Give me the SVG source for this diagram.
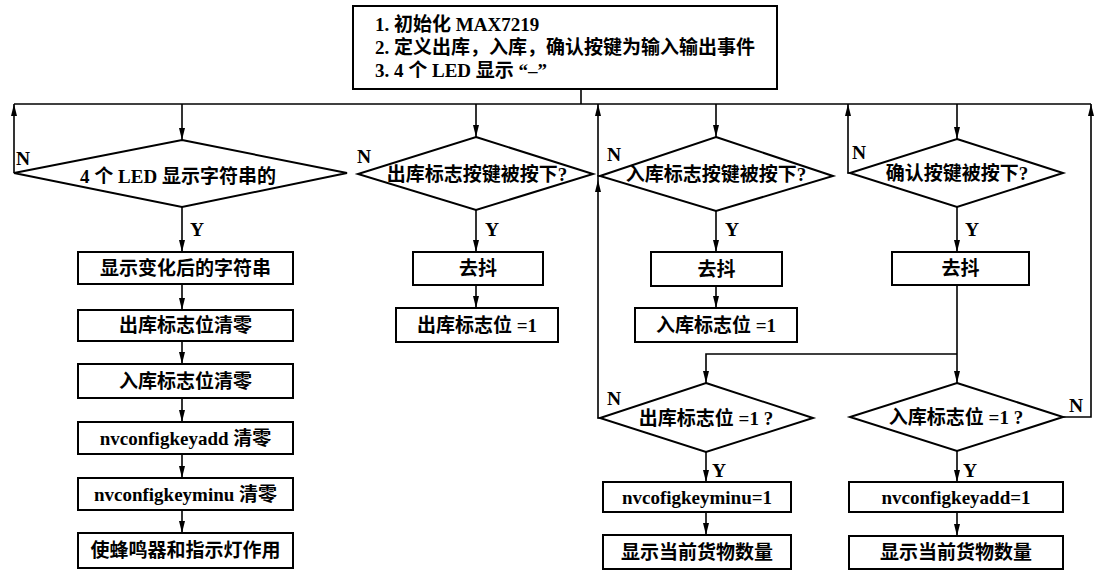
<svg xmlns="http://www.w3.org/2000/svg" width="1094" height="570" viewBox="0 0 1094 570">
<style>
.bx{fill:#fff;stroke:#000;stroke-width:2}
.dm{fill:#fff;stroke:#000;stroke-width:2}
.ln{fill:none;stroke:#000;stroke-width:1.6}
.ar{fill:none;stroke:#000;stroke-width:1.6;marker-end:url(#ah)}
.t{font-family:"Liberation Serif","Noto Sans CJK SC",serif;font-size:19px;font-weight:bold;text-anchor:middle;dominant-baseline:central;fill:#000}
.tl{font-family:"Liberation Serif","Noto Sans CJK SC",serif;font-size:19px;font-weight:bold;fill:#000}
.lb{font-family:"Liberation Serif",serif;font-size:19.5px;font-weight:bold;fill:#000}
</style>
<defs>
<marker id="ah" markerUnits="userSpaceOnUse" markerWidth="12" markerHeight="6" refX="12" refY="3" orient="auto">
<path d="M0,0 L12,3 L0,6 z" fill="#000"/>
</marker>
</defs>
<rect width="1094" height="570" fill="#fff"/>

<g id="connectors">
<path class="ln" d="M581,89 V104"/>
<path class="ln" d="M14,104 H1091"/>
<path class="ar" d="M182,104 V140"/>
<path class="ar" d="M476,104 V137"/>
<path class="ar" d="M716,104 V137"/>
<path class="ar" d="M957,104 V139"/>
<path class="ar" d="M14,173 V104"/>
<path class="ar" d="M600,418 H598 V180"/>
<path class="ln" d="M598,180 V176 H602"/>
<path class="ar" d="M598,176 V104"/>
<path class="ar" d="M850,173 H848 V104"/>
<path class="ar" d="M1063,417 H1091 V104"/>
<path class="ar" d="M182,207 V252"/>
<path class="ar" d="M182,284 V310"/>
<path class="ar" d="M182,341 V364"/>
<path class="ar" d="M182,398 V422"/>
<path class="ar" d="M182,454 V478"/>
<path class="ar" d="M182,510 V533"/>
<path class="ar" d="M476,210 V252"/>
<path class="ar" d="M476,285 V308"/>
<path class="ar" d="M716,211 V252"/>
<path class="ar" d="M716,286 V308"/>
<path class="ar" d="M957,207 V252"/>
<path class="ar" d="M957,285 V383"/>
<path class="ar" d="M957,354 H706 V383"/>
<path class="ar" d="M706,452 V482"/>
<path class="ar" d="M706,512 V535"/>
<path class="ar" d="M957,451 V482"/>
<path class="ar" d="M957,512 V536"/>
</g>

<g id="labels">
<text class="lb" x="16" y="165">N</text>
<text class="lb" x="190" y="236">Y</text>
<text class="lb" x="357" y="163">N</text>
<text class="lb" x="485" y="236">Y</text>
<text class="lb" x="607" y="161">N</text>
<text class="lb" x="725" y="236">Y</text>
<text class="lb" x="852" y="159">N</text>
<text class="lb" x="965" y="236">Y</text>
<text class="lb" x="607" y="405">N</text>
<text class="lb" x="712" y="477">Y</text>
<text class="lb" x="1069" y="412">N</text>
<text class="lb" x="963" y="477">Y</text>
</g>

<g id="init">
<rect class="bx" x="353" y="6" width="424" height="83"/>
<text class="tl" x="375" y="31">1. 初始化 MAX7219</text>
<text class="tl" x="375" y="54">2. 定义出库，入库，确认按键为输入输出事件</text>
<text class="tl" x="375" y="77">3. 4 个 LED 显示 “–”</text>
</g>

<g id="d1"><polygon class="dm" points="182,140 347,173 182,207 14,173"/><text class="t" x="178" y="176">4 个 LED 显示字符串的</text></g>
<g id="d2"><polygon class="dm" points="476,137 593,174 476,210 358,174"/><text class="t" x="477" y="174">出库标志按键被按下?</text></g>
<g id="d3"><polygon class="dm" points="716,137 833,176 716,211 600,176"/><text class="t" x="716" y="174">入库标志按键被按下?</text></g>
<g id="d4"><polygon class="dm" points="957,139 1063,173 957,207 850,173"/><text class="t" x="957" y="173">确认按键被按下?</text></g>
<g id="d5"><polygon class="dm" points="706,383 813,418 706,452 600,418"/><text class="t" x="706" y="418">出库标志位 =1 ?</text></g>
<g id="d6"><polygon class="dm" points="957,383 1063,417 957,451 850,417"/><text class="t" x="956" y="417">入库标志位 =1 ?</text></g>

<g id="b1"><rect class="bx" x="78" y="252" width="215" height="32"/><text class="t" x="185.5" y="268">显示变化后的字符串</text></g>
<g id="b2"><rect class="bx" x="78" y="310" width="215" height="31"/><text class="t" x="185.5" y="325.5">出库标志位清零</text></g>
<g id="b3"><rect class="bx" x="78" y="364" width="215" height="34"/><text class="t" x="185.5" y="381">入库标志位清零</text></g>
<g id="b4"><rect class="bx" x="78" y="422" width="215" height="32"/><text class="t" x="185.5" y="438">nvconfigkeyadd 清零</text></g>
<g id="b5"><rect class="bx" x="78" y="478" width="215" height="32"/><text class="t" x="185.5" y="494">nvconfigkeyminu 清零</text></g>
<g id="b6"><rect class="bx" x="78" y="533" width="215" height="35"/><text class="t" x="185.5" y="550.5">使蜂鸣器和指示灯作用</text></g>

<g id="b7"><rect class="bx" x="413" y="252" width="130" height="33"/><text class="t" x="478" y="268.5">去抖</text></g>
<g id="b8"><rect class="bx" x="396" y="308" width="162" height="34"/><text class="t" x="477" y="325">出库标志位 =1</text></g>

<g id="b9"><rect class="bx" x="651" y="252" width="131" height="34"/><text class="t" x="716.5" y="269">去抖</text></g>
<g id="b10"><rect class="bx" x="635" y="308" width="162" height="34"/><text class="t" x="716" y="325">入库标志位 =1</text></g>

<g id="b11"><rect class="bx" x="892" y="252" width="137" height="33"/><text class="t" x="960.5" y="268.5">去抖</text></g>

<g id="b12"><rect class="bx" x="603" y="482" width="188" height="30"/><text class="t" x="697" y="497">nvcofigkeyminu=1</text></g>
<g id="b13"><rect class="bx" x="603" y="535" width="188" height="34"/><text class="t" x="697" y="552">显示当前货物数量</text></g>
<g id="b14"><rect class="bx" x="849" y="482" width="214" height="30"/><text class="t" x="956" y="497">nvconfigkeyadd=1</text></g>
<g id="b15"><rect class="bx" x="849" y="536" width="214" height="33"/><text class="t" x="956" y="552.5">显示当前货物数量</text></g>
</svg>
